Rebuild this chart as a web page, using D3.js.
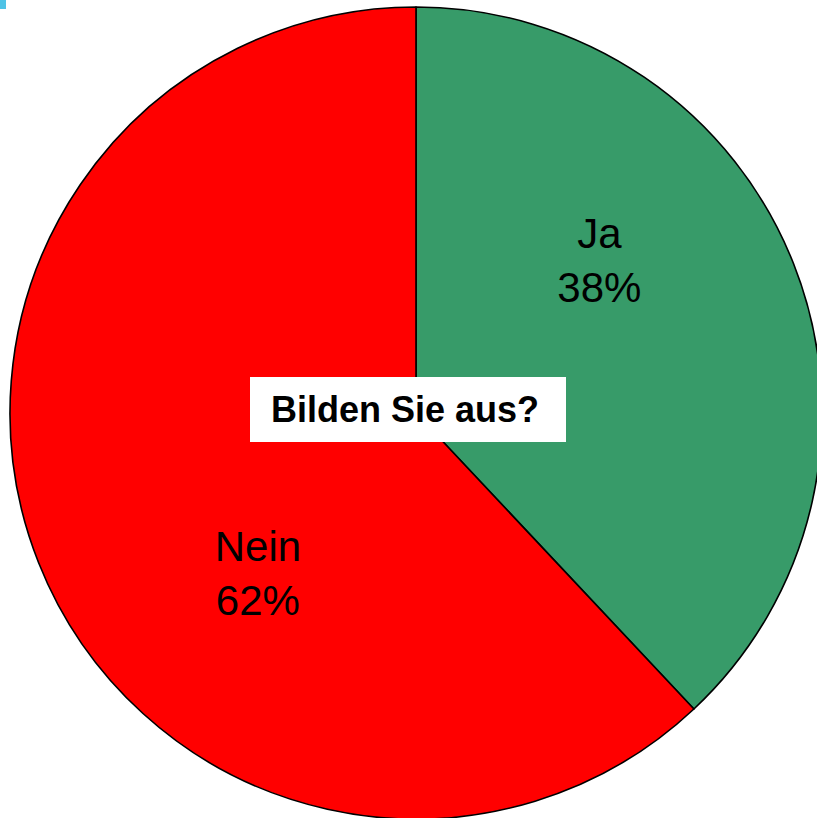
<!DOCTYPE html>
<html>
<head>
<meta charset="utf-8">
<script src="https://cdn.jsdelivr.net/npm/d3@7"></script>
<style>
  html, body { margin: 0; padding: 0; background: #fff; overflow: hidden; }
  text { font-family: "Liberation Sans", Arial, sans-serif; }
</style>
</head>
<body>
<svg id="chart"></svg>
<script>
const width = 817;
const height = 818;

// data
const categories = ["Ja", "Nein"];
const values = [38, 62];
const colors = ["#379b69", "#ff0000"];
const title = "Bilden Sie aus?";

// label placement (angle from mid, degrees / radius)
const labelShift = [-18, -24];
const labelRadius = [238, 226];

const cx = 416, cy = 413, radius = 406;

const svg = d3.select("#chart")
  .attr("width", width)
  .attr("height", height);

svg.append("rect")
  .attr("x", 0).attr("y", 0)
  .attr("width", 6).attr("height", 9)
  .attr("fill", "#4fc3e6");

const g = svg.append("g")
  .attr("transform", `translate(${cx},${cy})`);

const data = categories.map((c, i) => ({ name: c, value: values[i], idx: i }));

const pie = d3.pie()
  .sort(null)
  .value(d => d.value);

const arc = d3.arc()
  .innerRadius(0)
  .outerRadius(radius);

const arcs = pie(data);

g.selectAll("path.slice")
  .data(arcs)
  .enter().append("path")
  .attr("class", "slice")
  .attr("d", arc)
  .attr("fill", d => colors[d.data.idx])
  .attr("stroke", "#000")
  .attr("stroke-width", 1.6)
  .attr("stroke-linejoin", "round");

const labels = g.selectAll("g.label")
  .data(arcs)
  .enter().append("g")
  .attr("class", "label")
  .attr("transform", d => {
    const i = d.data.idx;
    const mid = (d.startAngle + d.endAngle) / 2 + labelShift[i] * Math.PI / 180;
    return `translate(${labelRadius[i] * Math.sin(mid)},${-labelRadius[i] * Math.cos(mid)})`;
  });

labels.append("text")
  .attr("text-anchor", "middle")
  .attr("y", -13)
  .attr("font-size", 42)
  .attr("fill", "#000")
  .text(d => d.data.name);

labels.append("text")
  .attr("text-anchor", "middle")
  .attr("y", 41)
  .attr("font-size", 42)
  .attr("fill", "#000")
  .text(d => d.data.value + "%");

// title box
const box = svg.append("g").attr("transform", "translate(408,410)");
box.append("rect")
  .attr("x", -158).attr("y", -33)
  .attr("width", 316).attr("height", 65)
  .attr("fill", "#fff");
box.append("text")
  .attr("text-anchor", "middle")
  .attr("x", -3)
  .attr("y", 12)
  .attr("font-size", 36)
  .attr("font-weight", "bold")
  .attr("fill", "#000")
  .text(title);
</script>
</body>
</html>
